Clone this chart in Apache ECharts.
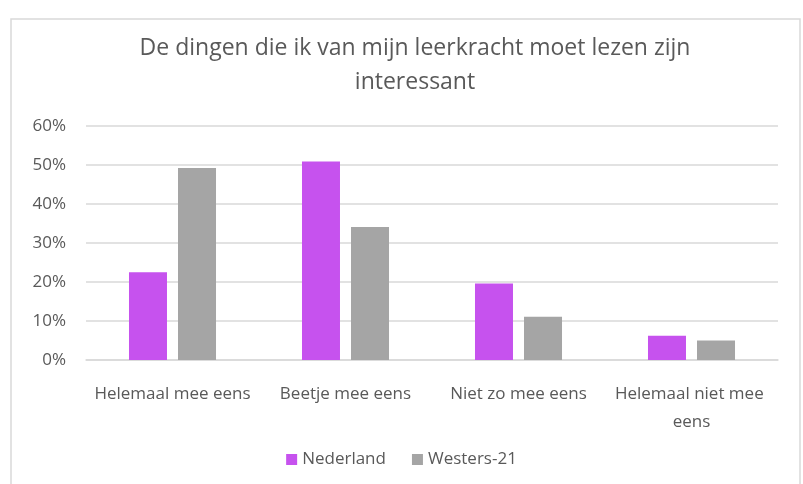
<!DOCTYPE html>
<html><head><meta charset="utf-8">
<script src="https://cdn.jsdelivr.net/npm/echarts@6/dist/echarts.min.js"></script>
<style>html,body{margin:0;padding:0;background:#fff}#c{width:803px;height:484px}</style>
</head><body><div id="c"></div>
<script>
const titleLines = ["De dingen die ik van mijn leerkracht moet lezen zijn", "interessant"];
const categories = ["Helemaal mee eens", "Beetje mee eens", "Niet zo mee eens", "Helemaal niet mee eens"];
const nederland = [22.5, 50.9, 19.6, 6.2];
const westers21 = [49.2, 34.1, 11.1, 5.0];
const seriesNames = ["Nederland", "Westers-21"];
const yTicks = [0, 10, 20, 30, 40, 50, 60];

const FONT = "Open Sans";
const chart = echarts.init(document.getElementById('c'));
chart.setOption({
  backgroundColor: '#fff',
  animation: false,
  graphic: [{type:'rect', shape:{x:11, y:19, width:789, height:470}, style:{fill:'none', stroke:'#d9d9d9', lineWidth:1.5}, silent:true}],
  title: {
    text: titleLines.join('\n'), left: 410, textAlign: 'center', top: 26,
    textStyle: {fontFamily: FONT, fontSize: 23, fontWeight: 'normal', color: '#595959', lineHeight: 34}
  },
  legend: {
    data: seriesNames, bottom: 11, left: 'center', itemWidth: 11, itemHeight: 11, itemGap: 26, icon: 'rect',
    textStyle: {fontFamily: FONT, fontSize: 17, color: '#595959'}
  },
  grid: {left: 86, right: 25, top: 126, bottom: 124},
  xAxis: {
    type: 'category', data: categories,
    axisLine: {lineStyle: {color: '#d9d9d9', width: 1.5}}, axisTick: {show: false},
    axisLabel: {fontFamily: FONT, fontSize: 17, color: '#595959', margin: 20, width: 165, overflow: 'break', lineHeight: 28, interval: 0}
  },
  yAxis: {
    type: 'value', min: 0, max: 60, interval: 10,
    axisLine: {show: false}, axisTick: {show: false},
    splitLine: {lineStyle: {color: '#d9d9d9', width: 1.5}},
    axisLabel: {fontFamily: FONT, fontSize: 17, color: '#595959', margin: 20, formatter: v => yTicks.includes(v) ? v + '%' : ''}
  },
  series: [
    {name: seriesNames[0], type: 'bar', data: nederland, barWidth: 38, barGap: '29%', itemStyle: {color: '#C652EE'}},
    {name: seriesNames[1], type: 'bar', data: westers21, barWidth: 38, itemStyle: {color: '#A5A5A5'}}
  ]
});
</script></body></html>
